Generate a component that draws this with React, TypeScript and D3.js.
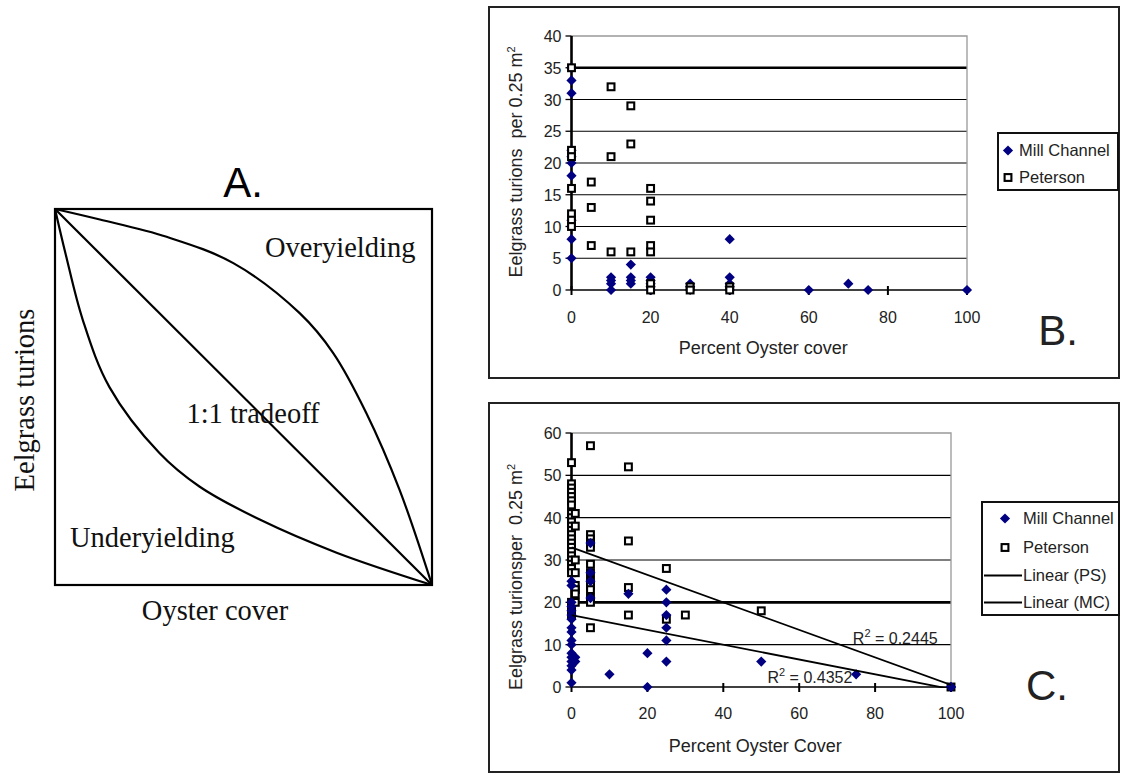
import * as d3 from "d3";
import React, { useEffect, useRef } from "react";

type Pt = [number, number];

// Panel A: conceptual curves, oyster cover (0-1) vs eelgrass (0-1)
const overyielding: Pt[] = [
  [0, 1], [0.119, 0.972], [0.296, 0.926], [0.473, 0.856], [0.649, 0.723],
  [0.738, 0.617], [0.826, 0.457], [0.914, 0.253], [1, 0],
];
const underyielding: Pt[] = [
  [0, 1], [0.028, 0.881], [0.074, 0.704], [0.144, 0.527], [0.277, 0.351],
  [0.383, 0.262], [0.543, 0.174], [0.747, 0.086], [1, 0],
];
const oneToOne: Pt[] = [[0, 1], [1, 0]];

// Panel B: percent oyster cover vs turions
const millChannelB: Pt[] = [
  [0, 35], [0, 33], [0, 31], [0, 22], [0, 21], [0, 20], [0, 18], [0, 11], [0, 10], [0, 8], [0, 5],
  [10, 2], [10, 1.5], [10, 1], [10, 0],
  [15, 4], [15, 2], [15, 1.5], [15, 1],
  [20, 2], [20, 1.5], [20, 1], [20, 0.5], [20, 0],
  [30, 1], [30, 0.5], [30, 0],
  [40, 8], [40, 2], [40, 1], [40, 0.5], [40, 0],
  [60, 0], [70, 1], [75, 0], [100, 0],
];
const petersonB: Pt[] = [
  [0, 35], [0, 22], [0, 21], [0, 16], [0, 12], [0, 11], [0, 10],
  [5, 17], [5, 13], [5, 7],
  [10, 32], [10, 21], [10, 6],
  [15, 29], [15, 23], [15, 6],
  [20, 16], [20, 14], [20, 11], [20, 7], [20, 6], [20, 1], [20, 0],
  [30, 0.5], [30, 0],
  [40, 0.5], [40, 0],
];

// Panel C
const millChannelC: Pt[] = [
  [0, 25], [0, 24], [0, 20], [0, 19], [0, 18], [0, 17], [0, 16], [0, 14], [0, 13], [0, 11],
  [0, 10], [0, 8], [0, 7], [0, 6], [0, 5], [0, 4], [0, 1],
  [1, 7], [1, 6],
  [5, 34], [5, 27], [5, 25], [5, 21],
  [10, 3], [15, 22], [20, 8], [20, 0],
  [25, 23], [25, 20], [25, 17], [25, 14], [25, 11], [25, 6],
  [50, 6], [75, 3], [100, 0],
];
const petersonC: Pt[] = [
  [0, 53], [0, 48], [0, 47], [0, 46], [0, 45], [0, 44], [0, 43], [0, 41], [0, 40], [0, 39],
  [0, 38], [0, 37], [0, 36], [0, 35], [0, 34], [0, 33], [0, 32], [0, 31], [0, 30], [0, 29],
  [0, 28], [0, 27], [0, 20], [0, 19], [0, 18], [0, 17],
  [1, 41], [1, 38], [1, 30], [1, 27], [1, 24], [1, 23], [1, 22], [1, 20],
  [5, 57], [5, 36], [5, 35], [5, 34], [5, 33], [5, 29], [5, 27], [5, 25], [5, 24], [5, 23],
  [5, 21], [5, 20], [5, 14],
  [15, 52], [15, 34.5], [15, 23.5], [15, 17],
  [25, 28], [25, 16], [30, 17], [50, 18], [100, 0],
];
const trendPS = { intercept: 33, slope: -0.325, r2: "0.2445" };
const trendMC = { intercept: 17, slope: -0.175, r2: "0.4352" };

const xTicks = [0, 20, 40, 60, 80, 100];
const yTicksB = [0, 5, 10, 15, 20, 25, 30, 35, 40];
const yTicksC = [0, 10, 20, 30, 40, 50, 60];

const NAVY = "#000080";
const SANS = "Liberation Sans, Arial, sans-serif";
const SERIF = "Liberation Serif, Times New Roman, serif";

type Sel = d3.Selection<SVGSVGElement, unknown, null, undefined>;
type G = d3.Selection<SVGGElement, unknown, null, undefined>;

function diamond(g: G, x: number, y: number) {
  g.append("path")
    .attr("d", d3.symbol(d3.symbolSquare, 52)()!)
    .attr("transform", `translate(${x},${y}) rotate(45)`)
    .attr("fill", NAVY);
}
function square(g: G, x: number, y: number) {
  g.append("rect")
    .attr("x", x - 3.4).attr("y", y - 3.4)
    .attr("width", 6.8).attr("height", 6.8)
    .attr("fill", "#fff").attr("stroke", "#000").attr("stroke-width", 2.1);
}

function drawPanelA(svg: Sel) {
  const g = svg.append("g");
  const x = d3.scaleLinear().domain([0, 1]).range([55, 432]);
  const y = d3.scaleLinear().domain([0, 1]).range([585, 209]);
  const line = d3.line<Pt>().x((d) => x(d[0])).y((d) => y(d[1])).curve(d3.curveCatmullRom.alpha(0.5));

  g.append("rect").attr("x", 55).attr("y", 209).attr("width", 377).attr("height", 376)
    .attr("fill", "none").attr("stroke", "#000").attr("stroke-width", 2.2);
  [overyielding, underyielding, oneToOne].forEach((d) => {
    g.append("path").attr("d", line(d)!).attr("fill", "none").attr("stroke", "#000").attr("stroke-width", 2.2);
  });

  g.append("text").attr("x", 243).attr("y", 197).attr("text-anchor", "middle")
    .attr("font-family", SANS).attr("font-size", 42).text("A.");
  const t = g.append("g").attr("font-family", SERIF).attr("font-size", 28.5).attr("fill", "#111");
  t.append("text").attr("x", 265).attr("y", 257).text("Overyielding");
  t.append("text").attr("x", 70).attr("y", 547).text("Underyielding");
  t.append("text").attr("x", 253).attr("y", 423).attr("text-anchor", "middle").text("1:1 tradeoff");
  t.append("text").attr("x", 215).attr("y", 620).attr("text-anchor", "middle").text("Oyster cover");
  t.append("text").attr("transform", "translate(34,400) rotate(-90)").attr("text-anchor", "middle").text("Eelgrass turions");
}

interface ScatterCfg {
  frameTop: number;
  frameBottom: number;
  left: number; right: number; top: number; bottom: number;
  yMax: number;
  yTicks: number[];
  boldAt: number;
  mc: Pt[];
  ps: Pt[];
  mcOnTop?: boolean;
  yLabel: string;
  yLabelY: number;
  xLabel: string;
  tickBase: number;
  xLabelBase: number;
  legend: { x: number; y: number; w: number; h: number; rows: number[]; markX: number; textX: number };
  letter: { text: string; x: number; y: number };
  trends?: boolean;
}

function drawScatter(svg: Sel, c: ScatterCfg) {
  const g = svg.append("g");
  g.append("rect").attr("x", 489).attr("y", c.frameTop).attr("width", 630).attr("height", c.frameBottom - c.frameTop)
    .attr("fill", "#fff").attr("stroke", "#222").attr("stroke-width", 2);

  const x = d3.scaleLinear().domain([0, 100]).range([c.left, c.right]);
  const y = d3.scaleLinear().domain([0, c.yMax]).range([c.bottom, c.top]);

  // grid
  c.yTicks.filter((v) => v > 0 && v < c.yMax).forEach((v) => {
    g.append("line").attr("x1", x(0)).attr("x2", x(100)).attr("y1", y(v)).attr("y2", y(v))
      .attr("stroke", "#000").attr("stroke-width", v === c.boldAt ? 2.6 : 1.2);
  });
  g.append("path")
    .attr("d", `M${x(0)},${y(c.yMax)}H${x(100)}V${y(0)}`)
    .attr("fill", "none").attr("stroke", "#999").attr("stroke-width", 1.3);

  // axes
  g.append("line").attr("x1", x(0)).attr("x2", x(100)).attr("y1", y(0)).attr("y2", y(0))
    .attr("stroke", "#000").attr("stroke-width", 1.6);
  xTicks.forEach((v) => {
    g.append("line").attr("x1", x(v)).attr("x2", x(v)).attr("y1", y(0) - 4).attr("y2", y(0) + 5)
      .attr("stroke", "#000").attr("stroke-width", 2);
    g.append("text").attr("x", x(v)).attr("y", c.tickBase).attr("text-anchor", "middle")
      .attr("font-family", SANS).attr("font-size", 16).attr("fill", "#222").text(v);
  });
  c.yTicks.forEach((v) => {
    g.append("line").attr("x1", x(0) - 6).attr("x2", x(0)).attr("y1", y(v)).attr("y2", y(v))
      .attr("stroke", "#000").attr("stroke-width", 1.3);
    g.append("text").attr("x", x(0) - 10).attr("y", y(v) + 6).attr("text-anchor", "end")
      .attr("font-family", SANS).attr("font-size", 16).attr("fill", "#222").text(v);
  });
  g.append("line").attr("x1", x(0)).attr("x2", x(0)).attr("y1", y(c.yMax)).attr("y2", y(0))
    .attr("stroke", "#000").attr("stroke-width", 2.6);

  // points
  const pts = g.append("g");
  const drawMC = () => c.mc.forEach((d) => diamond(pts, x(d[0]), y(d[1])));
  const drawPS = () => c.ps.forEach((d) => square(pts, x(d[0]), y(d[1])));
  if (c.mcOnTop) { drawPS(); drawMC(); } else { drawMC(); drawPS(); }

  if (c.trends) {
    const clipId = "clipC";
    svg.append("defs").append("clipPath").attr("id", clipId).append("rect")
      .attr("x", c.left).attr("y", c.top).attr("width", c.right - c.left).attr("height", c.bottom - c.top + 1);
    const tl = g.append("g").attr("clip-path", `url(#${clipId})`);
    [trendPS, trendMC].forEach((t) => {
      tl.append("line").attr("x1", x(0)).attr("y1", y(t.intercept))
        .attr("x2", x(100)).attr("y2", y(t.intercept + t.slope * 100))
        .attr("stroke", "#000").attr("stroke-width", 1.8);
    });
    const r2 = (tx: number, ty: number, val: string) => {
      const t = g.append("text").attr("x", tx).attr("y", ty).attr("text-anchor", "end")
        .attr("font-family", SANS).attr("font-size", 16).attr("fill", "#222");
      t.append("tspan").text("R");
      t.append("tspan").attr("dy", -7).attr("font-size", 11).text("2");
      t.append("tspan").attr("dy", 7).style("white-space", "pre").text(" = " + val);
    };
    r2(x(96.5), y(10) - 1, trendPS.r2);
    r2(x(74), y(1), trendMC.r2);
    // the 100% point sits on top of the trend lines
    diamond(pts.append("g"), x(100), y(0));
  }

  // axis titles
  g.append("text").attr("x", (c.left + c.right) / 2 - 6).attr("y", c.xLabelBase).attr("text-anchor", "middle")
    .attr("font-family", SANS).attr("font-size", 18).attr("fill", "#222").text(c.xLabel);
  const yl = g.append("text").attr("transform", `translate(522,${c.yLabelY}) rotate(-90)`)
    .attr("text-anchor", "middle").attr("font-family", SANS).attr("font-size", 18).attr("fill", "#222")
    .style("white-space", "pre");
  yl.append("tspan").text(c.yLabel);
  yl.append("tspan").attr("dy", -7).attr("font-size", 11).text("2");

  // legend
  const L = c.legend;
  g.append("rect").attr("x", L.x).attr("y", L.y).attr("width", L.w).attr("height", L.h)
    .attr("fill", "#fff").attr("stroke", "#111").attr("stroke-width", 2);
  const names = c.trends
    ? ["Mill Channel", "Peterson", "Linear (PS)", "Linear (MC)"]
    : ["Mill Channel", "Peterson"];
  names.forEach((n, i) => {
    const by = L.rows[i];
    if (i === 0) diamond(g, L.markX, by - 5.5);
    else if (i === 1) square(g, L.markX, by - 5.5);
    else g.append("line").attr("x1", L.x + 2).attr("x2", L.textX - 1).attr("y1", by - 5.5).attr("y2", by - 5.5)
      .attr("stroke", "#000").attr("stroke-width", 2);
    g.append("text").attr("x", L.textX).attr("y", by)
      .attr("font-family", SANS).attr("font-size", 16.5).attr("fill", "#222").text(n);
  });

  g.append("text").attr("x", c.letter.x).attr("y", c.letter.y).attr("text-anchor", "middle")
    .attr("font-family", SANS).attr("font-size", 42).attr("fill", "#222").text(c.letter.text);
}

const App: React.FC = () => {
  const svgRef = useRef<SVGSVGElement>(null);
  useEffect(() => {
    const svg = d3.select(svgRef.current!) as unknown as Sel;
    svg.selectAll("*").remove();
    svg.append("rect").attr("width", 1122).attr("height", 775).attr("fill", "#fff");

    drawPanelA(svg);

    drawScatter(svg, {
      frameTop: 7, frameBottom: 378,
      left: 571.5, right: 967, top: 36, bottom: 290,
      yMax: 40, yTicks: yTicksB, boldAt: 35,
      mc: millChannelB, ps: petersonB,
      yLabel: "Eelgrass turions  per 0.25 m", yLabelY: 162,
      xLabel: "Percent Oyster cover",
      tickBase: 323, xLabelBase: 354,
      legend: { x: 998, y: 133, w: 120, h: 57, rows: [156, 183], markX: 1008, textX: 1019 },
      letter: { text: "B.", x: 1058, y: 345 },
    });

    drawScatter(svg, {
      frameTop: 403, frameBottom: 772,
      left: 571.5, right: 951, top: 433, bottom: 687,
      yMax: 60, yTicks: yTicksC, boldAt: 20,
      mc: millChannelC, ps: petersonC, mcOnTop: true,
      yLabel: "Eelgrass turionsper  0.25 m", yLabelY: 577,
      xLabel: "Percent Oyster Cover",
      tickBase: 719, xLabelBase: 752,
      legend: { x: 982, y: 502, w: 137, h: 113, rows: [524, 553, 581, 608], markX: 1005, textX: 1023 },
      letter: { text: "C.", x: 1047, y: 700 },
      trends: true,
    });
  }, []);

  return (
    <svg
      ref={svgRef}
      width={1122}
      height={775}
      style={{ position: "absolute", left: 0, top: 0, display: "block" }}
    ></svg>
  );
};

export default App;
